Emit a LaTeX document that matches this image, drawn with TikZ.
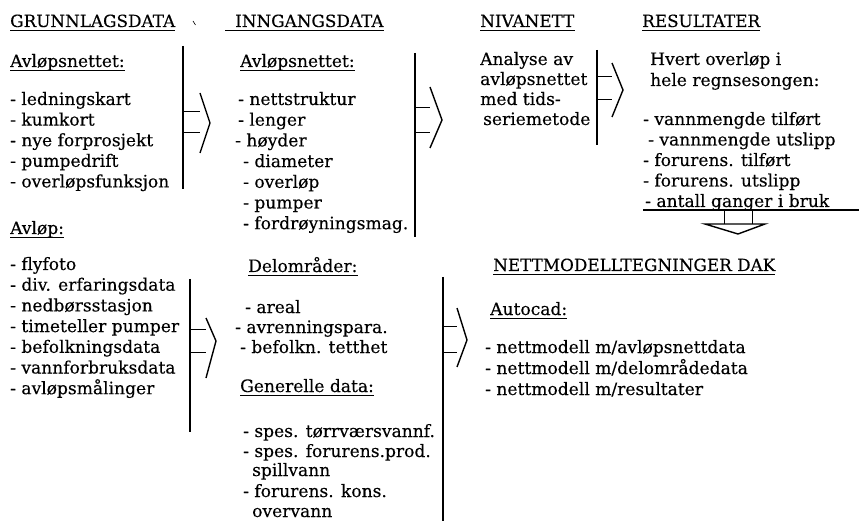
\documentclass[tikz,border=0pt]{standalone}
\usepackage{fontspec}
\setmainfont{DejaVu Serif}
\newfontfamily\dfont[FakeBold=0.25]{DejaVu Serif}
\begin{document}
\begin{tikzpicture}[x=1pt,y=-1pt,
  txt/.style={font=\dfont\fontsize{17.1}{20}\selectfont, inner sep=0pt, anchor=base west},
  hdr/.style={txt, font=\dfont\fontsize{16.8}{20}\selectfont},
  ul/.style={line width=0.8pt},
  bar/.style={line width=1.1pt},
  shaft/.style={line width=1pt},
  head/.style={line width=1.4pt, line join=miter},
]
\useasboundingbox (0,0) rectangle (859,521);
\newcommand{\uln}[1]{\draw[ul] ([yshift=-3pt]#1.base west) -- ([yshift=-3pt]#1.base east);}
% headers
\node[hdr] (h1) at (10,27) {GRUNNLAGSDATA}; \uln{h1}
\node[hdr] (h2) at (235,27) {INNGANGSDATA};
\draw[ul] ([yshift=-3pt,xshift=-10pt]h2.base west) -- ([yshift=-3pt]h2.base east);
\node[hdr] (h3) at (480,27) {NIVANETT}; \uln{h3}
\node[hdr] (h4) at (642,27) {RESULTATER}; \uln{h4}
\draw[line width=0.6pt] (193,21) -- (195.5,25);
% column 1
\node[txt] (a0) at (10,67) {Avløpsnettet:}; \uln{a0}
\node[txt] (a1) at (10,105) {- ledningskart};
\node[txt] (a2) at (10,125.6) {- kumkort};
\node[txt] (a3) at (10,146.2) {- nye forprosjekt};
\node[txt] (a4) at (10,166.8) {- pumpedrift};
\node[txt] (a5) at (10,187.4) {- overløpsfunksjon};
\node[txt] (b0) at (10,234) {Avløp:}; \uln{b0}
\node[txt] (b1) at (10,270) {- flyfoto};
\node[txt] (b2) at (10,290.7) {- div. erfaringsdata};
\node[txt] (b3) at (10,311.4) {- nedbørsstasjon};
\node[txt] (b4) at (10,332.1) {- timeteller pumper};
\node[txt] (b5) at (10,352.8) {- befolkningsdata};
\node[txt] (b6) at (10,373.5) {- vannforbruksdata};
\node[txt] (b7) at (10,394.2) {- avløpsmålinger};
% column 2
\node[txt] (c0) at (240,67) {Avløpsnettet:}; \uln{c0}
\node[txt] (c1) at (238,105) {- nettstruktur};
\node[txt] (c2) at (238,125.7) {- lenger};
\node[txt] (c3) at (235,146.4) {- høyder};
\node[txt] (c4) at (243,167.1) {- diameter};
\node[txt] (c5) at (243,187.8) {- overløp};
\node[txt] (c6) at (243,208.5) {- pumper};
\node[txt] (c7) at (243,229.2) {- fordrøyningsmag.};
\node[txt] (d0) at (248,272) {Delområder:}; \uln{d0}
\node[txt] (d1) at (245,313) {- areal};
\node[txt] (d2) at (235,333) {- avrenningspara.};
\node[txt] (d3) at (240,353) {- befolkn. tetthet};
\node[txt] (g0) at (240,392) {Generelle data:}; \uln{g0}
\node[txt] (g1) at (243,437) {- spes. tørrværsvannf.};
\node[txt] (g2) at (243,457) {- spes. forurens.prod.};
\node[txt] (g3) at (252,476) {spillvann};
\node[txt] (g4) at (243,497) {- forurens. kons.};
\node[txt] (g5) at (252,517) {overvann};
% column 3
\node[txt] (n1) at (480,65) {Analyse av};
\node[txt] (n2) at (480,85) {avløpsnettet};
\node[txt] (n3) at (480,105) {med tids-};
\node[txt] (n4) at (483,125) {seriemetode};
% column 4
\node[txt] (r1) at (650,65) {Hvert overløp i};
\node[txt] (r2) at (650,86) {hele regnsesongen:};
\node[txt] (r3) at (643,125) {- vannmengde tilført};
\node[txt] (r4) at (648,145.5) {- vannmengde utslipp};
\node[txt] (r5) at (643,166) {- forurens. tilført};
\node[txt] (r6) at (643,186.5) {- forurens. utslipp};
\node[txt] (r7) at (645,207) {- antall ganger i bruk};
% DAK
\node[hdr] (k0) at (493,271) {NETTMODELLTEGNINGER DAK}; \uln{k0}
\node[txt] (k1) at (490,315) {Autocad:}; \uln{k1}
\node[txt] (k2) at (485,353) {- nettmodell m/avløpsnettdata};
\node[txt] (k3) at (485,374) {- nettmodell m/delområdedata};
\node[txt] (k4) at (485,395) {- nettmodell m/resultater};
% arrows
% 1
\draw[bar] (183,46) -- (183,189);
\draw[shaft] (183,112) -- (200,112) (183,133) -- (200,133);
\draw[head] (200,93) -- (210,123) -- (200,153);
% 2
\draw[bar] (415,53) -- (415,237);
\draw[shaft] (415,108) -- (430,108) (415,133) -- (430,133);
\draw[head] (430,87) -- (442,120) -- (430,148);
% 3
\draw[bar] (597,50) -- (597,145);
\draw[shaft] (597,77) -- (612,77) (597,100) -- (612,100);
\draw[head] (612,63) -- (623,90) -- (612,117);
% 5
\draw[bar] (190,279) -- (190,432);
\draw[shaft] (190,329) -- (206,329) (190,352) -- (206,352);
\draw[head] (206,318) -- (216,341) -- (206,378);
% 6
\draw[bar] (443,277) -- (443,521);
\draw[shaft] (443,326) -- (457,326) (443,352) -- (457,352);
\draw[head] (457,308) -- (467,340) -- (457,367);
% down
\draw[bar] (643,210) -- (859,210);
\draw[shaft] (724,210) -- (724,224) (752,210) -- (752,224);
\draw[head] (705,224) -- (765,224) -- (738,234) -- cycle;
\end{tikzpicture}
\end{document}
